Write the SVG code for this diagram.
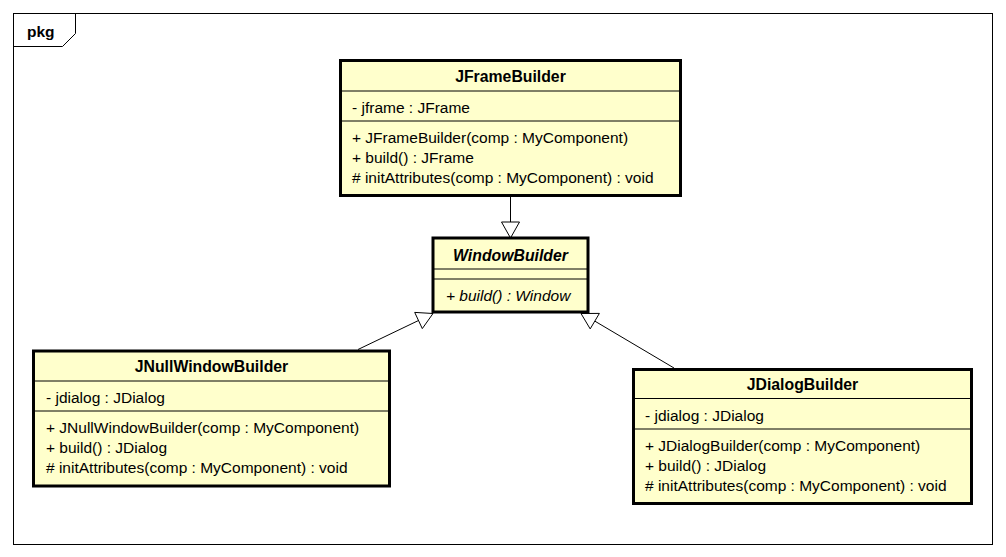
<svg xmlns="http://www.w3.org/2000/svg" width="1006" height="557" viewBox="0 0 1006 557">
<style>
.box{fill:#FFFFCC;stroke:#000;stroke-width:3}
.sep{stroke:#000;stroke-width:1}
.t{font-family:"Liberation Sans",Arial,sans-serif;font-size:15.5px;fill:#000}
.b{font-weight:bold;text-anchor:middle;font-size:15.8px}
.i{font-style:italic}
.conn{stroke:#000;stroke-width:1;fill:none}
.head{fill:#fff;stroke:#000;stroke-width:1}
</style>
<rect x="0" y="0" width="1006" height="557" fill="#fff"/>
<g id="frame">
<rect x="13.5" y="13.5" width="979" height="531" fill="none" stroke="#000" stroke-width="1"/>
<path d="M13.5 46.5 H62.5 L75.5 33.5 V13.5" fill="none" stroke="#000" stroke-width="1"/>
<text x="27" y="36.5" class="t" font-weight="bold" font-size="15.5px">pkg</text>
</g>
<g id="connectors">
<line class="conn" x1="510.5" y1="197" x2="510.5" y2="222"/>
<polygon class="head" points="510.5,238 501.5,222 519.5,222"/>
<line class="conn" x1="358" y1="349.5" x2="418.5" y2="320.5"/>
<polygon class="head" points="433,313.5 414.7,312.4 422.3,328.6"/>
<line class="conn" x1="674" y1="368" x2="594.8" y2="321.1"/>
<polygon class="head" points="581,313.5 599.4,313.4 590.2,328.9"/>
</g>
<g id="JFrameBuilder">
<rect class="box" x="340.5" y="60.5" width="340" height="135"/>
<line class="sep" x1="342" y1="91" x2="679" y2="91"/>
<line class="sep" x1="342" y1="121" x2="679" y2="121"/>
<text class="t b" x="510.5" y="82">JFrameBuilder</text>
<text class="t" x="352" y="113">- jframe : JFrame</text>
<text class="t" x="352" y="143">+ JFrameBuilder(comp : MyComponent)</text>
<text class="t" x="352" y="163">+ build() : JFrame</text>
<text class="t" x="352" y="183"># initAttributes(comp : MyComponent) : void</text>
</g>
<g id="WindowBuilder">
<rect class="box" x="433" y="238" width="155" height="74"/>
<line class="sep" x1="434" y1="269" x2="587" y2="269"/>
<line class="sep" x1="434" y1="279" x2="587" y2="279"/>
<text class="t b i" x="510.5" y="261">WindowBuilder</text>
<text class="t i" x="446" y="301">+ build() : Window</text>
</g>
<g id="JNullWindowBuilder">
<rect class="box" x="33.5" y="351" width="356" height="135"/>
<line class="sep" x1="35" y1="381" x2="388" y2="381"/>
<line class="sep" x1="35" y1="411" x2="388" y2="411"/>
<text class="t b" x="211.5" y="372">JNullWindowBuilder</text>
<text class="t" x="46" y="403">- jdialog : JDialog</text>
<text class="t" x="46" y="433">+ JNullWindowBuilder(comp : MyComponent)</text>
<text class="t" x="46" y="453">+ build() : JDialog</text>
<text class="t" x="46" y="473"># initAttributes(comp : MyComponent) : void</text>
</g>
<g id="JDialogBuilder">
<rect class="box" x="633.5" y="369.5" width="338" height="134"/>
<line class="sep" x1="635" y1="398.5" x2="970" y2="398.5"/>
<line class="sep" x1="635" y1="429" x2="970" y2="429"/>
<text class="t b" x="802.5" y="390">JDialogBuilder</text>
<text class="t" x="645" y="421">- jdialog : JDialog</text>
<text class="t" x="645" y="451">+ JDialogBuilder(comp : MyComponent)</text>
<text class="t" x="645" y="471">+ build() : JDialog</text>
<text class="t" x="645" y="491"># initAttributes(comp : MyComponent) : void</text>
</g>
</svg>
